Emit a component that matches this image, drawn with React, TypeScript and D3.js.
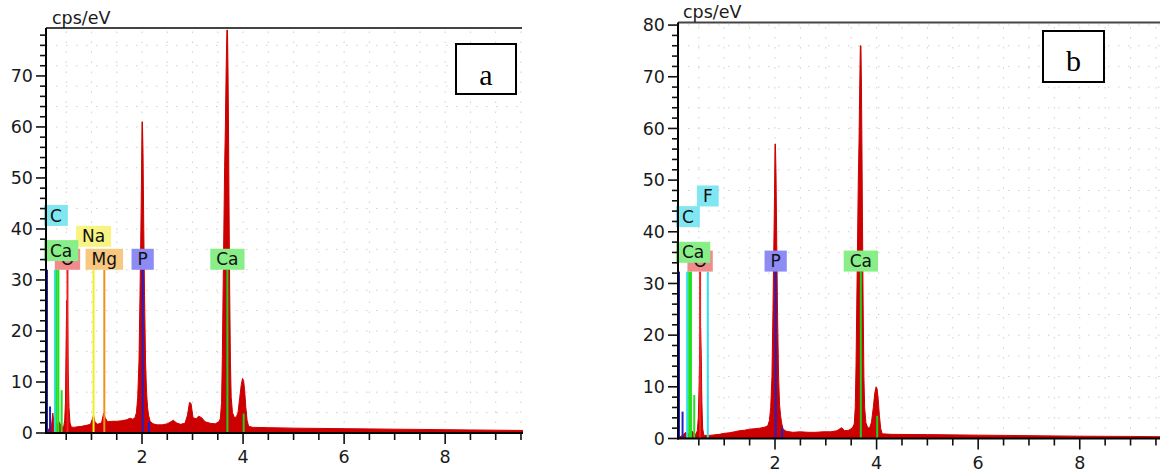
import React from 'react';
import * as d3 from 'd3';

// ---------- DATA ----------
// Panel a spectrum: [energy keV, counts cps/eV]
const spectrumA: [number, number][] = [
  [0.10, 0], [0.12, 0.5], [0.15, 0.8], [0.18, 1.0], [0.21, 1.5], [0.235, 3.9], [0.25, 2.5], [0.27, 1.2],
  [0.30, 1.5], [0.33, 1.8], [0.36, 2.2], [0.39, 1.6], [0.42, 1.2], [0.45, 1.2], [0.47, 2.5], [0.485, 6],
  [0.495, 15], [0.51, 26], [0.525, 24], [0.54, 12], [0.555, 5], [0.575, 2], [0.60, 1.2], [0.65, 1.1],
  [0.70, 1.2], [0.80, 1.3], [0.90, 1.5], [0.98, 1.7], [1.02, 2.8], [1.04, 3.5], [1.07, 2.2], [1.12, 1.7],
  [1.20, 2.0], [1.24, 3.9], [1.27, 3.0], [1.32, 2.2], [1.40, 2.3], [1.50, 2.3], [1.60, 2.4], [1.70, 2.6],
  [1.76, 2.9], [1.82, 2.7], [1.86, 3.0], [1.89, 4], [1.915, 7], [1.94, 14], [1.96, 27], [1.978, 40],
  [1.99, 50], [2.00, 61], [2.008, 61], [2.02, 55], [2.035, 40], [2.05, 27], [2.07, 14], [2.09, 8],
  [2.11, 5], [2.13, 3.5], [2.16, 2.3], [2.22, 1.8], [2.30, 1.6], [2.40, 1.6], [2.50, 1.8], [2.57, 2.2],
  [2.62, 2.5], [2.68, 2.0], [2.76, 1.7], [2.85, 1.9], [2.90, 3.5], [2.94, 6.0], [2.97, 5.8], [3.01, 3.0],
  [3.07, 2.8], [3.12, 3.3], [3.18, 3.0], [3.25, 2.2], [3.35, 1.9], [3.45, 1.8], [3.52, 2.2], [3.55, 2.8],
  [3.575, 6], [3.59, 15], [3.605, 28], [3.62, 40], [3.635, 52], [3.65, 60], [3.665, 71], [3.68, 79],
  [3.692, 79], [3.702, 71], [3.712, 60], [3.722, 45], [3.735, 28], [3.75, 14], [3.765, 7], [3.79, 4],
  [3.83, 3.0], [3.87, 3.2], [3.90, 4], [3.935, 7], [3.965, 9.5], [3.99, 10.7], [4.01, 10.3], [4.03, 8.5],
  [4.055, 5], [4.08, 2.5], [4.11, 1.3], [4.2, 1.1], [4.5, 1.05], [5.0, 0.95], [5.5, 0.9], [6.0, 0.85],
  [6.5, 0.8], [7.0, 0.75], [7.5, 0.7], [8.0, 0.65], [8.5, 0.6], [9.0, 0.55], [9.54, 0.5],
];

// Panel b spectrum
const spectrumB: [number, number][] = [
  [0.09, 0], [0.12, 0.3], [0.16, 0.5], [0.20, 0.8], [0.24, 1.2], [0.28, 0.8], [0.32, 1.0], [0.36, 1.5],
  [0.40, 1.0], [0.44, 0.8], [0.47, 1.5], [0.49, 4], [0.505, 10], [0.52, 18], [0.535, 21.4], [0.548, 16],
  [0.56, 7], [0.575, 2], [0.60, 0.6], [0.70, 0.6], [0.80, 0.7], [0.90, 0.8], [1.00, 1.0], [1.10, 1.1],
  [1.20, 1.3], [1.30, 1.5], [1.40, 1.6], [1.50, 1.8], [1.60, 1.9], [1.70, 2.0], [1.80, 2.2], [1.86, 2.5],
  [1.89, 3.5], [1.915, 6], [1.94, 12], [1.96, 25], [1.978, 38], [1.99, 47], [2.00, 57], [2.008, 57],
  [2.02, 51], [2.035, 37], [2.05, 24], [2.07, 12], [2.09, 6.5], [2.11, 4.4], [2.13, 3.0], [2.16, 1.8],
  [2.22, 1.4], [2.35, 1.2], [2.50, 1.3], [2.65, 1.2], [2.80, 1.2], [2.95, 1.3], [3.10, 1.3], [3.22, 1.5],
  [3.31, 2.1], [3.37, 1.5], [3.45, 1.6], [3.52, 2.0], [3.56, 2.8], [3.58, 6], [3.595, 14], [3.61, 26],
  [3.625, 38], [3.64, 50], [3.655, 58], [3.668, 68], [3.68, 76], [3.692, 76], [3.702, 68], [3.712, 56],
  [3.722, 42], [3.735, 26], [3.75, 12], [3.765, 6], [3.79, 3], [3.83, 2.0], [3.87, 2.2], [3.90, 3.2],
  [3.935, 6], [3.965, 8.8], [3.99, 10.0], [4.01, 9.6], [4.03, 7.8], [4.055, 4.5], [4.08, 2.0], [4.11, 0.9],
  [4.3, 0.8], [5.0, 0.75], [6.0, 0.65], [7.0, 0.55], [8.0, 0.45], [9.0, 0.4], [9.58, 0.35],
];

// Element marker lines: energy (keV), height (cps/eV), colour
const markersA = [
  { e: 0.12, h: 32, color: '#2020c8' },
  { e: 0.18, h: 5.2, color: '#2020c8' },
  { e: 0.277, h: 32, color: '#30e0f0' },
  { e: 0.31, h: 32, color: '#20e020' },
  { e: 0.345, h: 32, color: '#20e020' },
  { e: 0.41, h: 8.4, color: '#20e020' },
  { e: 0.525, h: 32, color: '#f02020' },
  { e: 1.041, h: 32, color: '#f0f020' },
  { e: 1.254, h: 32, color: '#f09020' },
  { e: 2.013, h: 32, color: '#2020c8' },
  { e: 2.139, h: 2.2, color: '#2020c8' },
  { e: 3.69, h: 32, color: '#20d020' },
  { e: 4.012, h: 3.8, color: '#20d020' },
];

const markersB = [
  { e: 0.11, h: 32.3, color: '#2020c8' },
  { e: 0.18, h: 5.2, color: '#2020c8' },
  { e: 0.27, h: 32.3, color: '#30e0f0' },
  { e: 0.31, h: 32.3, color: '#20e020' },
  { e: 0.345, h: 32.3, color: '#20e020' },
  { e: 0.41, h: 8.4, color: '#20e020' },
  { e: 0.525, h: 32.3, color: '#f02020' },
  { e: 0.677, h: 32.3, color: '#30e0f0' },
  { e: 2.013, h: 32.3, color: '#2020c8' },
  { e: 2.139, h: 2.1, color: '#2020c8' },
  { e: 3.69, h: 32.3, color: '#20d020' },
  { e: 4.012, h: 4.4, color: '#20d020' },
];

// Element label boxes: text, energy, box bottom level (cps/eV), fill
const labelsA = [
  { text: 'O', e: 0.525, level: 32, fill: '#f08c8c' },
  { text: 'Mg', e: 1.254, level: 32, fill: '#f8c880' },
  { text: 'P', e: 2.013, level: 32, fill: '#8c8cf4' },
  { text: 'Ca', e: 3.69, level: 32, fill: '#88ee88' },
  { text: 'Na', e: 1.041, level: 36.5, fill: '#f8f482' },
  { text: 'Ca', e: 0.345, level: 33.7, fill: '#88ee88' },
  { text: 'C', e: 0.277, level: 40.6, fill: '#80e6f2' },
];

const labelsB = [
  { text: 'O', e: 0.525, level: 32.3, fill: '#f08c8c' },
  { text: 'P', e: 2.013, level: 32.3, fill: '#8c8cf4' },
  { text: 'Ca', e: 3.69, level: 32.3, fill: '#88ee88' },
  { text: 'Ca', e: 0.345, level: 34, fill: '#88ee88' },
  { text: 'C', e: 0.277, level: 40.9, fill: '#80e6f2' },
  { text: 'F', e: 0.677, level: 44.9, fill: '#80e6f2' },
];

const yTickLabelsA = [0, 10, 20, 30, 40, 50, 60, 70];
const yTickLabelsB = [0, 10, 20, 30, 40, 50, 60, 70, 80];
const xTickLabels = [2, 4, 6, 8];

// ---------- DRAWING ----------
const FONT = 'DejaVu Sans, Verdana, sans-serif';
const charW: Record<string, number> = { C: 0.698, a: 0.613, O: 0.787, N: 0.748, M: 0.863, g: 0.635, P: 0.603, F: 0.575 };
const textWidth = (t: string, size: number) => t.split('').reduce((s, c) => s + (charW[c] ?? 0.6), 0) * size;

type Layout = {
  left: number; right: number; top: number; bottom: number;
  xDomain: [number, number]; yMax: number;
  titleX: number; titleY: number;
  letter: string; box: { x: number; y: number; w: number; h: number; ty: number };
  topLineEnd: number;
};

function Panel({ spectrum, markers, labels, yLabels, L }: {
  spectrum: [number, number][]; markers: { e: number; h: number; color: string }[];
  labels: { text: string; e: number; level: number; fill: string }[]; yLabels: number[]; L: Layout;
}) {
  const x = d3.scaleLinear().domain(L.xDomain).range([L.left, L.right]);
  const y = d3.scaleLinear().domain([0, L.yMax]).range([L.bottom, L.top]);
  const area = d3.area<[number, number]>().x(d => x(d[0])).y0(y(0)).y1(d => y(d[1]));
  const clipId = 'clip' + L.letter;

  const xMinor = d3.range(0.5, L.xDomain[1], 0.5).filter(v => v > L.xDomain[0]);
  const yMinor = d3.range(0, L.yMax, 2);
  const gridX = xMinor;
  const gridY = d3.range(4, L.yMax, 4);

  return (
    <g>
      <defs>
        <clipPath id={clipId}>
          <rect x={L.left} y={L.top} width={L.right - L.left} height={L.bottom - L.top} />
        </clipPath>
      </defs>
      {/* dotted grid */}
      <g stroke="#cfcfcf" strokeWidth={1} strokeDasharray="1.5 8.5">
        {gridX.map(v => <line key={'gx' + v} x1={x(v)} x2={x(v)} y1={L.bottom} y2={L.top} />)}
        {gridY.map(v => <line key={'gy' + v} x1={L.left} x2={L.right} y1={y(v)} y2={y(v)} />)}
      </g>
      {/* spectrum */}
      <path d={area(spectrum) ?? ''} fill="#cc0000" stroke="#cc0000" strokeWidth={1} clipPath={`url(#${clipId})`} />
      {/* element markers */}
      {markers.map((m, i) => (
        <line key={'m' + i} x1={x(m.e)} x2={x(m.e)} y1={y(0)} y2={y(m.h)} stroke={m.color} strokeWidth={2} />
      ))}
      {/* label boxes */}
      {labels.map((lb, i) => {
        const w = textWidth(lb.text, 17) + 12;
        let bx = x(lb.e) - w / 2;
        if (bx < L.left - 2) bx = L.left - 2;
        const by = y(lb.level) - 21;
        return (
          <g key={'l' + i}>
            <rect x={bx} y={by} width={w} height={21} fill={lb.fill} />
            <text x={bx + w / 2} y={by + 16.6} textAnchor="middle" fontFamily={FONT} fontSize={17} fill="#111">{lb.text}</text>
          </g>
        );
      })}
      {/* top frame line */}
      <line x1={L.left} x2={L.topLineEnd} y1={L.top} y2={L.top} stroke="#444" strokeWidth={2} />
      {/* y axis */}
      <line x1={L.left} x2={L.left} y1={L.top} y2={L.bottom + 1} stroke="#000" strokeWidth={2} />
      {yMinor.map(v => (
        <line key={'yt' + v} x1={L.left - (v % 10 === 0 ? 10 : 6)} x2={L.left} y1={y(v)} y2={y(v)} stroke="#111" strokeWidth={1.6} />
      ))}
      {yLabels.map(v => (
        <text key={'yl' + v} x={L.left - 13} y={y(v)} dy="0.36em" textAnchor="end" fontFamily={FONT} fontSize={17.5} fill="#1a1a1a">{v}</text>
      ))}
      {/* x axis */}
      <line x1={L.left - 1} x2={L.right} y1={L.bottom} y2={L.bottom} stroke="#000" strokeWidth={2} />
      {xMinor.map(v => (
        <line key={'xt' + v} x1={x(v)} x2={x(v)} y1={L.bottom} y2={L.bottom + (v % 2 === 0 ? 11 : 7)} stroke="#111" strokeWidth={1.6} />
      ))}
      {xTickLabels.map(v => (
        <text key={'xl' + v} x={x(v)} y={L.bottom + 30} textAnchor="middle" fontFamily={FONT} fontSize={17.5} fill="#1a1a1a">{v}</text>
      ))}
      {/* title */}
      <text x={L.titleX} y={L.titleY} fontFamily={FONT} fontSize={17.5} fill="#1a1a1a">cps/eV</text>
      {/* panel letter box */}
      <rect x={L.box.x} y={L.box.y} width={L.box.w} height={L.box.h} fill="#fff" stroke="#000" strokeWidth={2} />
      <text x={L.box.x + L.box.w / 2} y={L.box.ty} textAnchor="middle" fontFamily="Liberation Serif, Times New Roman, serif" fontSize={30} fill="#000">{L.letter}</text>
    </g>
  );
}

const layoutA: Layout = {
  left: 46, right: 523, top: 28, bottom: 433, xDomain: [0.1, 9.54], yMax: 79.4,
  titleX: 52, titleY: 24, letter: 'a',
  box: { x: 456, y: 44, w: 60, h: 50, ty: 84.5 }, topLineEnd: 522,
};
const layoutB: Layout = {
  left: 678, right: 1160, top: 22.5, bottom: 438.5, xDomain: [0.09, 9.58], yMax: 80.5,
  titleX: 683, titleY: 17.5, letter: 'b',
  box: { x: 1043, y: 31, w: 61, h: 51, ty: 71 }, topLineEnd: 1160,
};

export default function App() {
  return (
    <svg width={1160} height={472} style={{ position: 'absolute', left: 0, top: 0, background: '#fff' }}>
      <rect width={1160} height={472} fill="#fff" />
      <Panel spectrum={spectrumA} markers={markersA} labels={labelsA} yLabels={yTickLabelsA} L={layoutA} />
      <Panel spectrum={spectrumB} markers={markersB} labels={labelsB} yLabels={yTickLabelsB} L={layoutB} />
    </svg>
  );
}
